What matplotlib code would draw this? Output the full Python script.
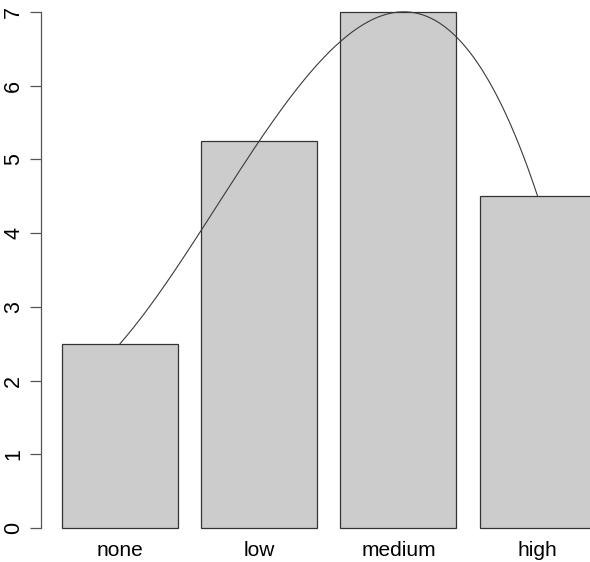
import numpy as np
import matplotlib
matplotlib.use("Agg")
import matplotlib.pyplot as plt

categories = ["none", "low", "medium", "high"]
values = [2.5, 5.25, 7.0, 4.5]
yticks = [0, 1, 2, 3, 4, 5, 6, 7]

plt.rcParams['font.family'] = ['Liberation Sans', 'DejaVu Sans']

fig = plt.figure(figsize=(5.9, 5.62), dpi=100)
# R barplot style coordinates: width 1, space 0.2
W = 590.0
H = 562.0
left_px, right_px = 40.7, 617.0
bottom_px, top_px = 548.6, -8.6
ax = fig.add_axes([left_px / W, (H - bottom_px) / H,
                   (right_px - left_px) / W, (bottom_px - top_px) / H])

n = len(values)
lefts = np.array([0.2 + i * 1.2 for i in range(n)])
centers = lefts + 0.5
ax.bar(centers, values, width=1.0, color="#CCCCCC", edgecolor="#333333",
       linewidth=0.9, zorder=2)

# smooth interpolating curve through bar tops (cubic through the points)
coef = np.polyfit(centers, values, len(values) - 1)
xs = np.linspace(centers[0], centers[-1], 300)
ax.plot(xs, np.polyval(coef, xs), color="#3a3a3a", linewidth=0.8, zorder=3)

ax.set_xlim(0.2 - 0.184, 4.8 + 0.184)
ax.set_ylim(-0.28, 7.28)

for s in ["top", "right", "bottom"]:
    ax.spines[s].set_visible(False)
ax.spines["left"].set_bounds(0, 7)
ax.spines["left"].set_color("#555555")
ax.spines["left"].set_linewidth(0.9)

ax.set_yticks(yticks)
ax.set_yticklabels([str(t) for t in yticks], rotation=90, va="center")
ax.tick_params(axis="y", length=8, width=0.9, color="#555555", labelsize=15.5, pad=4)

ax.set_xticks(centers)
ax.set_xticklabels(categories)
ax.tick_params(axis="x", length=0, labelsize=15, pad=-5.5)

fig.savefig("out.png", dpi=100)
